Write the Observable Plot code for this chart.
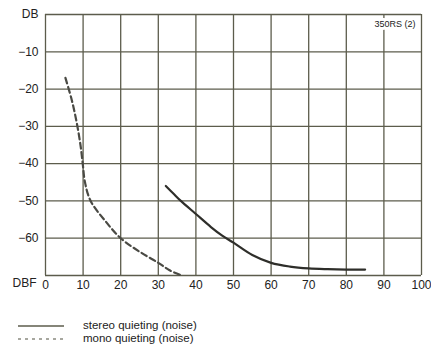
<!DOCTYPE html>
<html><head><meta charset="utf-8">
<script src="https://cdn.jsdelivr.net/npm/d3@7"></script>
<script src="https://cdn.jsdelivr.net/npm/@observablehq/plot@0.6"></script>
<style>
body{margin:0;background:#fff;font-family:"Liberation Sans",Arial,sans-serif;}
#legend{position:relative;height:44px;width:431px;}
.row{position:absolute;left:0;height:13px;display:flex;align-items:center;font-size:11.5px;color:#222;line-height:13px;}
.row svg{margin-left:18px;margin-right:19px;}
</style></head><body>
<div id="chart"></div>
<div id="legend"></div>
<script>
const stereoX = [32, 34, 36, 40, 44, 47, 50, 55, 60, 65, 70, 75, 80, 85];
const stereoY = [-46, -48, -50, -53.5, -57, -59.3, -61.2, -64.5, -66.6, -67.6, -68.1, -68.3, -68.4, -68.4];
const monoX = [5.3, 7, 8.3, 9.3, 9.9, 10.5, 12, 16, 20, 25, 30, 33, 36.3];
const monoY = [-17, -23, -29, -35, -40, -45, -50, -55.5, -60, -63.6, -66.6, -68.6, -70];
const xTicks = [0, 10, 20, 30, 40, 50, 60, 70, 80, 90, 100];
const yTicks = [0, -10, -20, -30, -40, -50, -60, -70];
const yLabels = [0, -10, -20, -30, -40, -50, -60];
const seriesNames = ["stereo quieting (noise)", "mono quieting (noise)"];

const stereo = stereoX.map((x, i) => ({x, y: stereoY[i]}));
const mono = monoX.map((x, i) => ({x, y: monoY[i]}));

const chart = Plot.plot({
  width: 431, height: 300,
  marginLeft: 45, marginRight: 10, marginTop: 14, marginBottom: 25,
  style: {fontFamily: '"Liberation Sans", Arial, sans-serif', fontSize: "11px", color: "#222"},
  x: {domain: [0, 100]},
  y: {domain: [-70, 0]},
  marks: [
    Plot.ruleX(xTicks, {x: d => d, stroke: "#5c5c4c", strokeWidth: 1.3}),
    Plot.ruleY(yTicks, {y: d => d, stroke: "#5c5c4c", strokeWidth: 1.3}),
    Plot.axisY(yLabels, {tickSize: 0, tickPadding: 7, label: null, fontSize: 12,
      tickFormat: d => d === 0 ? "DB" : "\u2212" + (-d)}),
    Plot.axisX(xTicks, {tickSize: 0, tickPadding: 5, label: null, fontSize: 12, tickFormat: d => String(d)}),
    Plot.text(["DBF"], {frameAnchor: "bottom-left", dx: -33, dy: 11, fontSize: 12, fill: "#222"}),
    Plot.text(["350RS (2)"], {frameAnchor: "top-right", dx: -6, dy: 6, fontSize: 9, fill: "#222", stroke: "white", strokeWidth: 6}),
    Plot.line(mono, {x: "x", y: "y", stroke: "#4a4a44", strokeWidth: 2.2, strokeDasharray: "6,3.5", curve: "catmull-rom"}),
    Plot.line(stereo, {x: "x", y: "y", stroke: "#2e2e2a", strokeWidth: 2.2, curve: "catmull-rom"})
  ]
});
document.getElementById("chart").appendChild(chart);

const legend = document.getElementById("legend");
const styles = [{top: 19, dash: null, color: "#5c5c4c"}, {top: 32, dash: "3,4", color: "#8a8a80"}];
seriesNames.forEach((name, i) => {
  const row = document.createElement("div");
  row.className = "row";
  row.style.top = styles[i].top + "px";
  row.innerHTML = `<svg width="46" height="4"><line x1="0" x2="46" y1="2" y2="2" stroke="${styles[i].color}" stroke-width="1.5" ${styles[i].dash ? `stroke-dasharray="${styles[i].dash}"` : ""}/></svg><span>${name}</span>`;
  legend.appendChild(row);
});
</script>
</body></html>
